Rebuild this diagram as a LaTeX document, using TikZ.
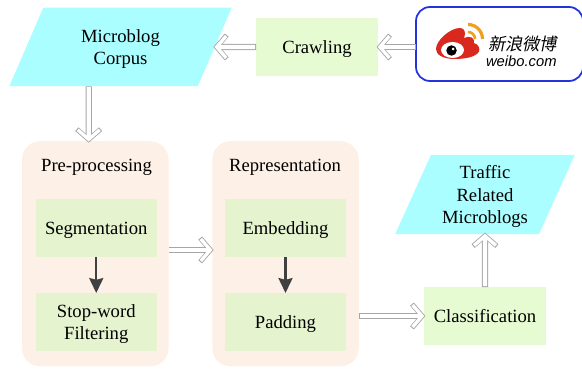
\documentclass[tikz,border=0pt]{standalone}
\usepackage{fontspec}
\setmainfont{Liberation Serif}
\newfontfamily\logolatin{Liberation Sans}
\newfontfamily\logocjk[FakeSlant=0.2]{Noto Sans CJK SC}
\usetikzlibrary{shapes.geometric, arrows.meta, positioning}
\definecolor{corpuscyan}{HTML}{ABFEFF}
\definecolor{stepgreen}{HTML}{E7FBD3}
\definecolor{innergreen}{HTML}{E5F3CF}
\definecolor{stagepeach}{HTML}{FDF0E6}
\definecolor{arrowgray}{HTML}{A6A6A6}
\definecolor{weiboblue}{HTML}{2233DD}
\definecolor{weibored}{HTML}{D9281E}
\definecolor{weiboorange}{HTML}{F0A020}
\tikzset{
  every node/.style={font=\fontsize{10.6}{12.7}\selectfont, align=center, inner sep=0pt, outer sep=0pt, text depth=0pt},
  databox/.style={trapezium, trapezium left angle=63.9, trapezium right angle=116.1, trapezium stretches=true, fill=corpuscyan},
  stepbox/.style={rectangle, fill=stepgreen, minimum width=2.44cm, minimum height=1.16cm},
  innerbox/.style={rectangle, fill=innergreen, minimum width=2.43cm, minimum height=1.16cm},
  stagebox/.style={rectangle, rounded corners=0.36cm, fill=stagepeach, minimum width=2.93cm, minimum height=4.5cm},
  hollow/.style={
    preaction={draw=arrowgray, line width=3.5pt, shorten >=-0.8pt, shorten <=0pt, -{Straight Barb[length=5.8pt,width=13.5pt,line width=2.8pt]}},
    draw=white, line width=2.5pt, shorten >=-0.16pt, shorten <=0.5pt, -{Straight Barb[length=5.4pt,width=12.5pt,line width=1.9pt]}},
  solid arrow/.style={draw=black!75, line width=1.3pt, -{Stealth[length=8.5pt,width=8pt,inset=1pt]}}
}
\begin{document}
\begin{tikzpicture}
\useasboundingbox (0, 0) rectangle (11.64, 7.36);
% stages
\node [stagebox] (pre) at (1.905, 2.285) {};
\node [stagebox] (repr) at (5.71, 2.285) {};
\node (pretitle) at (1.93, 4.05) {Pre-processing};
\node (reprtitle) at (5.7, 4.05) {Representation};
% steps inside
\node [innerbox] (seg) at (1.925, 2.8) {Segmentation};
\node [innerbox] (stop) at (1.925, 0.92) {Stop-word\\Filtering};
\node [innerbox] (embed) at (5.71, 2.8) {Embedding};
\node [innerbox] (pad) at (5.71, 0.92) {Padding};
% top row
\node [databox, minimum width=4.46cm, minimum height=1.57cm] (corpus) at (2.41, 6.42) {Microblog\\Corpus};
\node [stepbox] (crawl) at (6.34, 6.42) {Crawling};
\node [draw=weiboblue, line width=1pt, rounded corners=0.28cm, minimum width=3.34cm, minimum height=1.48cm, anchor=west] (weibo) at (8.32, 6.48) {};
% right column
\node [stepbox] (class) at (9.7, 1.04) {Classification};
\node [databox, minimum width=3.6cm, minimum height=1.58cm] (traffic) at (9.7, 3.47) {Traffic\\Related\\Microblogs};
% logo
\fill [weibored] (9.1, 6.18) .. controls (8.85, 6.18) and (8.72, 6.27) .. (8.72, 6.38) .. controls (8.72, 6.55) and (9.0, 6.8) .. (9.2, 6.8) .. controls (9.3, 6.8) and (9.32, 6.7) .. (9.28, 6.6) .. controls (9.4, 6.66) and (9.5, 6.6) .. (9.48, 6.5) .. controls (9.58, 6.47) and (9.6, 6.38) .. (9.58, 6.33) .. controls (9.52, 6.22) and (9.3, 6.18) .. (9.1, 6.18) -- cycle;
\fill [white] (9.05, 6.36) ellipse (0.23 and 0.16);
\fill [black] (9.03, 6.35) circle (0.105);
\fill [white] (9.06, 6.38) circle (0.03);
\draw [weiboorange, line width=1.8pt] (9.36, 6.87) arc (90:0:0.29);
\draw [weiboorange, line width=1.5pt] (9.36, 6.72) arc (90:0:0.14);
\node [font=\logocjk\fontsize{9.8}{11}\selectfont, anchor=west] (weibocn) at (9.76, 6.5) {新浪微博};
\node [font=\logolatin\itshape\fontsize{8.4}{10}\selectfont, anchor=west] (weibourl) at (9.72, 6.14) {weibo.com};
% connectors
\draw [hollow] (weibo.west |- crawl.east) -- (crawl.east);
\draw [hollow] (crawl.west) -- (corpus.east);
\draw [hollow] ([xshift=-0.636cm]corpus.south) -- ([xshift=-0.131cm]pre.north);
\draw [hollow] ([yshift=0.076cm]pre.east) -- ([yshift=0.076cm]repr.west);
\draw [hollow] (class.west -| repr.east) -- (class.west);
\draw [hollow] (class.north) -- (traffic.south);
\draw [solid arrow] (seg.south) -- (stop.north);
\draw [solid arrow] (embed.south) -- (pad.north);
\end{tikzpicture}
\end{document}
